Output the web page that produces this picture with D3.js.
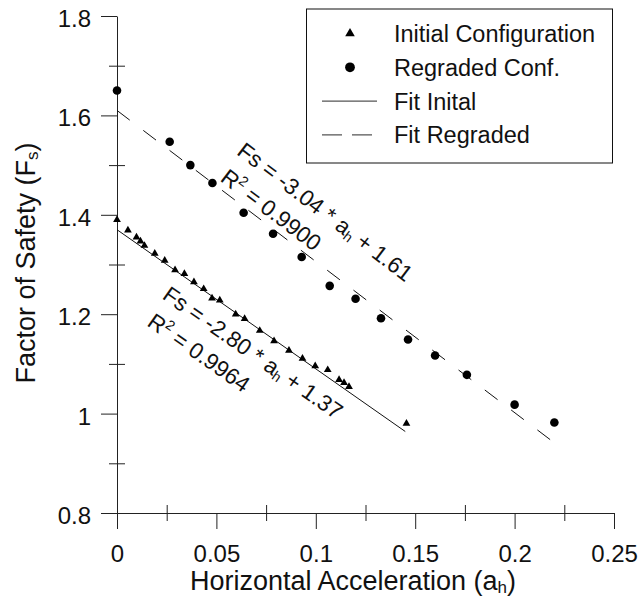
<!DOCTYPE html>
<html>
<head>
<meta charset="utf-8">
<script src="https://cdn.jsdelivr.net/npm/d3@7"></script>
<style>
  body { margin: 0; background: #fff; }
  text { font-family: "Liberation Sans", Arial, Helvetica, sans-serif; fill: #111; }
</style>
</head>
<body>
<div id="chart"></div>
<script>
// data
const initialAccel = [0, 0.0055, 0.0098, 0.0118, 0.0138, 0.019, 0.024, 0.0292, 0.0339, 0.0387, 0.0436, 0.0478, 0.0517,
  0.0597, 0.0642, 0.0718, 0.079, 0.0865, 0.0933, 0.0997, 0.106, 0.1117, 0.1142, 0.1167, 0.1456];
const initialFs = [1.39, 1.369, 1.355, 1.347, 1.338, 1.322, 1.308, 1.289, 1.2815, 1.265, 1.251, 1.232, 1.228,
  1.2, 1.191, 1.167, 1.146, 1.127, 1.111, 1.096, 1.088, 1.068, 1.062, 1.054, 0.98];

const regradedAccel = [0, 0.0265, 0.0369, 0.048, 0.0637, 0.0785, 0.0929, 0.107, 0.12, 0.1328, 0.1464, 0.16, 0.176, 0.2, 0.22];
const regradedFs = [1.65, 1.547, 1.5, 1.464, 1.404, 1.362, 1.315, 1.257, 1.231, 1.192, 1.149, 1.117, 1.078, 1.018, 0.982];

// fits as printed on the chart
const fitInitial = { slope: -2.80, intercept: 1.37, r2: "0.9964", from: 0, to: 0.145 };
const fitRegraded = { slope: -3.04, intercept: 1.61, r2: "0.9900", from: 0, to: 0.219 };

const xTicks = [0, 0.05, 0.1, 0.15, 0.2, 0.25];
const xTickLabels = ["0", "0.05", "0.1", "0.15", "0.2", "0.25"];
const xMinor = [0.025, 0.075, 0.125, 0.175, 0.225];
const yTicks = [0.8, 1.0, 1.2, 1.4, 1.6, 1.8];
const yTickLabels = ["0.8", "1", "1.2", "1.4", "1.6", "1.8"];
const yMinor = [0.9, 1.1, 1.3, 1.5, 1.7];

const legendLabels = ["Initial Configuration", "Regraded Conf.", "Fit Inital", "Fit Regraded"];

var margin = { top: 16, right: 28, bottom: 97, left: 117 };
var width = 642 - margin.left - margin.right,   // 497
  height = 610 - margin.top - margin.bottom;    // 497

let svg = d3.select("#chart").append("svg")
  .attr("width", 642)
  .attr("height", 610);
let plot = svg.append("g")
  .attr("transform", `translate(${margin.left}, ${margin.top})`);

let x = d3.scaleLinear().domain([0, 0.25]).range([0, width]);
let y = d3.scaleLinear().domain([0.8, 1.8]).range([height, 0]);

// axes (major ticks outward, minor ticks crossing the line)
plot.append("g")
  .attr("transform", `translate(0, ${height})`)
  .call(d3.axisBottom(x).tickValues(xTicks).tickFormat((d, i) => xTickLabels[i])
    .tickSize(16).tickSizeOuter(0).tickPadding(16));
let yAxis = plot.append("g")
  .call(d3.axisLeft(y).tickValues(yTicks).tickFormat((d, i) => yTickLabels[i])
    .tickSize(16).tickSizeOuter(0).tickPadding(10));
yAxis.selectAll("text").attr("dy", "0.44em");

[d3.axisBottom(x), d3.axisTop(x)].forEach(ax => {
  plot.append("g").attr("class", "minor")
    .attr("transform", `translate(0, ${height})`)
    .call(ax.tickValues(xMinor).tickFormat("").tickSize(8).tickSizeOuter(0));
});
[d3.axisLeft(y), d3.axisRight(y)].forEach(ax => {
  plot.append("g").attr("class", "minor")
    .call(ax.tickValues(yMinor).tickFormat("").tickSize(8).tickSizeOuter(0));
});
plot.selectAll(".minor .domain").remove();
plot.selectAll(".tick line, .domain").attr("stroke", "#222");
plot.selectAll(".tick text").attr("font-size", 24);

// axis titles
let xTitle = svg.append("text")
  .attr("x", 353)
  .attr("y", 590)
  .attr("text-anchor", "middle")
  .attr("font-size", 27);
xTitle.append("tspan").text("Horizontal Acceleration (a");
xTitle.append("tspan").attr("font-size", 17).attr("dy", 3).text("h");
xTitle.append("tspan").attr("dy", -3).text(")");

let yTitle = svg.append("text")
  .attr("transform", "translate(35, 263) rotate(-90)")
  .attr("text-anchor", "middle")
  .attr("font-size", 27);
yTitle.append("tspan").text("Factor of Safety (F");
yTitle.append("tspan").attr("font-size", 17).attr("dy", 3).text("s");
yTitle.append("tspan").attr("dy", -3).text(")");

// fit lines
let fitLine = d3.line().x(d => x(d[0])).y(d => y(d[1]));
function fitPoints(f) {
  return [f.from, f.to].map(a => [a, f.slope * a + f.intercept]);
}
plot.append("path")
  .attr("d", fitLine(fitPoints(fitInitial)))
  .attr("fill", "none")
  .attr("stroke", "#111")
  .attr("stroke-width", 1);
plot.append("path")
  .attr("d", fitLine(fitPoints(fitRegraded)))
  .attr("fill", "none")
  .attr("stroke", "#111")
  .attr("stroke-width", 1)
  .attr("stroke-dasharray", "16,17");

// points
let triangle = d3.symbol().type(d3.symbolTriangle).size(26);
let circle = d3.symbol().type(d3.symbolCircle).size(58);

plot.append("g").selectAll("path")
  .data(d3.zip(initialAccel, initialFs))
  .enter()
  .append("path")
  .attr("d", triangle)
  .attr("transform", d => `translate(${x(d[0])}, ${y(d[1])})`)
  .attr("fill", "#000");

plot.append("g").selectAll("path")
  .data(d3.zip(regradedAccel, regradedFs))
  .enter()
  .append("path")
  .attr("d", circle)
  .attr("transform", d => `translate(${x(d[0])}, ${y(d[1])})`)
  .attr("fill", "#000");

// equations along the fit lines
const annotations = [
  { fit: fitRegraded, a: 0.0597, fs: 1.523 },
  { fit: fitInitial, a: 0.0223, fs: 1.2326 }
];
annotations.forEach(function (n) {
  let angle = Math.atan2(y(n.fit.slope) - y(0), x(1) - x(0)) * 180 / Math.PI;
  let g = plot.append("g")
    .attr("transform", `translate(${x(n.a)}, ${y(n.fs)}) rotate(${angle})`)
    .attr("font-size", 22.5);
  let t1 = g.append("text");
  t1.append("tspan").text(`Fs = ${n.fit.slope.toFixed(2)} * a`);
  t1.append("tspan").attr("font-size", 14).attr("dy", 3).text("h");
  t1.append("tspan").attr("dy", -3).text(` + ${n.fit.intercept.toFixed(2)}`);
  let t2 = g.append("text").attr("x", 3).attr("y", 31);
  t2.append("tspan").text("R");
  t2.append("tspan").attr("font-size", 14).attr("dy", -9).text("2");
  t2.append("tspan").attr("dy", 9).text(` = ${n.fit.r2}`);
});

// legend
let legend = svg.append("g");
legend.append("rect")
  .attr("x", 306.5)
  .attr("y", 9)
  .attr("width", 306)
  .attr("height", 154)
  .attr("fill", "white")
  .attr("stroke", "#111");

let rows = legend.selectAll("g.row")
  .data(legendLabels)
  .enter()
  .append("g")
  .attr("class", "row")
  .attr("transform", (d, i) => `translate(0, ${33.5 + i * 33.8})`);
rows.append("text")
  .attr("x", 394)
  .attr("y", 8.4)
  .attr("font-size", 23.5)
  .text(d => d);
rows.each(function (d, i) {
  let r = d3.select(this);
  if (i === 0) {
    r.append("path").attr("d", d3.symbol().type(d3.symbolTriangle).size(40))
      .attr("transform", "translate(350, 0)").attr("fill", "#000");
  } else if (i === 1) {
    r.append("path").attr("d", d3.symbol().type(d3.symbolCircle).size(75))
      .attr("transform", "translate(350, 0)").attr("fill", "#000");
  } else {
    r.append("line")
      .attr("x1", 322).attr("x2", 377)
      .attr("y1", 0).attr("y2", 0)
      .attr("stroke", "#555")
      .attr("stroke-width", 1.2)
      .attr("stroke-dasharray", i === 3 ? "20,10" : null);
  }
});
</script>
</body>
</html>
